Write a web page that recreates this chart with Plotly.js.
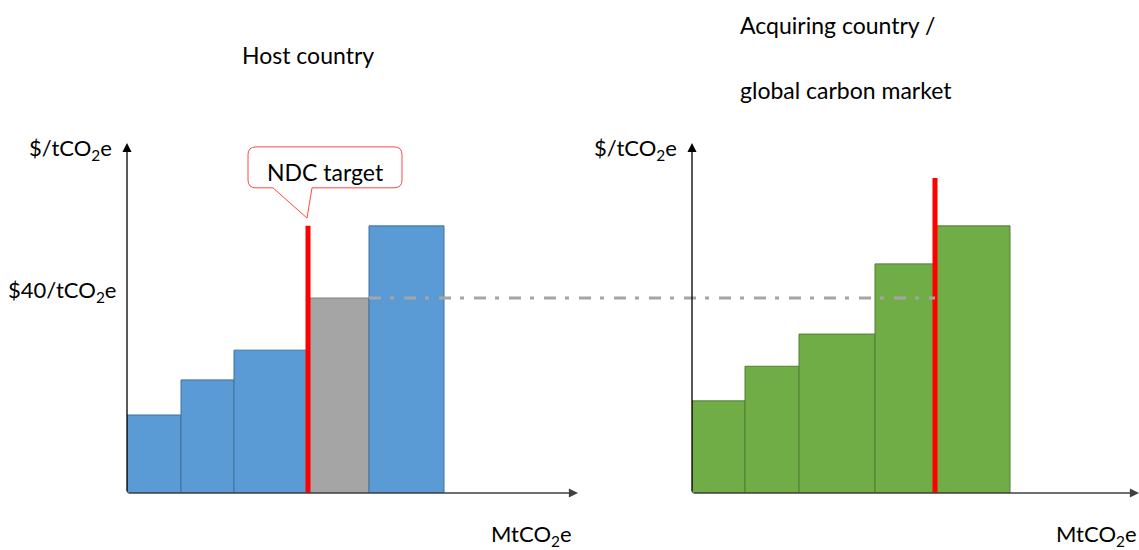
<!DOCTYPE html>
<html>
<head>
<meta charset="utf-8">
<script src="https://cdn.plot.ly/plotly-3.0.1.min.js"></script>
<style>html,body{margin:0;padding:0;background:#fff}#chart{width:1139px;height:550px}</style>
</head>
<body>
<div id="chart"></div>
<script>
// ---- data ----
const carbonPrice = 40;                       // $/tCO2e
const hostWidths  = [5.4, 5.3, 7.3, 6.2, 7.5]; // MtCO2e per abatement option
const hostCosts   = [16, 23.2, 29.3, 40, 54.8]; // $/tCO2e
const hostNdcX    = 18.1;                     // NDC target position
const hostNdcTop  = 54.8;
const buyerWidths = [5.3, 5.4, 7.6, 6.0, 7.5];
const buyerCosts  = [18.9, 26, 32.6, 47, 54.8];
const buyerNdcX   = 24.3;
const buyerNdcTop = 64.6;
const labels = {
  host: "Host country",
  buyer1: "Acquiring country /",
  buyer2: "global carbon market",
  yUnit: "$/tCO<sub>2</sub>e",
  price: "$40/tCO<sub>2</sub>e",
  xUnit: "MtCO<sub>2</sub>e",
  ndc: "NDC target"
};

// ---- layout geometry ----
const W = 1139, H = 550;
const px = x => x / W, py = y => 1 - y / H;
const xRangeL = [0, 45.1], xRangeR = [0, 44.7], yRange = [0, 71.8];
const xDomL = [127 / W, 578 / W], xDomR = [692 / W, 1];
const yDom = [57 / H, 407 / H];

function centers(widths) {
  let acc = 0; return widths.map(w => { const c = acc + w / 2; acc += w; return c; });
}
function cumEnd(widths, i) { return widths.slice(0, i + 1).reduce((a, b) => a + b, 0); }
function toPaperX(v, dom, rng) { return dom[0] + (v - rng[0]) / (rng[1] - rng[0]) * (dom[1] - dom[0]); }

const BLUE = '#5B9BD5', BLUE_L = '#41719C', GRAY = '#A5A5A5', GRAY_L = '#7F7F7F';
const GREEN = '#70AD47', GREEN_L = '#507E32';

const hostBars = {
  type: 'bar', x: centers(hostWidths), y: hostCosts, width: hostWidths,
  xaxis: 'x', yaxis: 'y', hoverinfo: 'skip',
  marker: {
    color: hostCosts.map(c => c === carbonPrice ? GRAY : BLUE),
    line: { color: hostCosts.map(c => c === carbonPrice ? GRAY_L : BLUE_L), width: 1 }
  }
};
const buyerBars = {
  type: 'bar', x: centers(buyerWidths), y: buyerCosts, width: buyerWidths,
  xaxis: 'x2', yaxis: 'y2', hoverinfo: 'skip',
  marker: { color: GREEN, line: { color: GREEN_L, width: 1 } }
};
const hostNdc = {
  type: 'scatter', mode: 'lines', x: [hostNdcX, hostNdcX], y: [0, hostNdcTop],
  xaxis: 'x', yaxis: 'y', line: { color: '#FF0000', width: 5 }, hoverinfo: 'skip'
};
const buyerNdc = {
  type: 'scatter', mode: 'lines', x: [buyerNdcX, buyerNdcX], y: [0, buyerNdcTop],
  xaxis: 'x2', yaxis: 'y2', line: { color: '#FF0000', width: 5 }, hoverinfo: 'skip'
};

// dash-dot price line from end of grey bar to buyer NDC line
const greyIdx = hostCosts.indexOf(carbonPrice);
const priceStart = toPaperX(cumEnd(hostWidths, greyIdx), xDomL, xRangeL);
const priceEnd = toPaperX(buyerNdcX, xDomR, xRangeR);
const yPricePaper = yDom[0] + carbonPrice / (yRange[1] - yRange[0]) * (yDom[1] - yDom[0]);

// callout (data coords of left subplot)
const cx0 = 12.1, cx1 = 27.5, cyT = 71.0, cyB = 62.6, rx = 0.8, ry = 1.6;
const calloutPath =
  `M ${cx0 + rx},${cyT} L ${cx1 - rx},${cyT} Q ${cx1},${cyT} ${cx1},${cyT - ry} ` +
  `L ${cx1},${cyB + ry} Q ${cx1},${cyB} ${cx1 - rx},${cyB} L 18.5,${cyB} L 18.0,56.4 L 14.6,${cyB} ` +
  `L ${cx0 + rx},${cyB} Q ${cx0},${cyB} ${cx0},${cyB + ry} L ${cx0},${cyT - ry} Q ${cx0},${cyT} ${cx0 + rx},${cyT} Z`;

const FAM = 'Lato, Carlito, "Open Sans", sans-serif';
function txt(text, x, y, xanchor, size) {
  return { text, x: px(x), y: py(y), xref: 'paper', yref: 'paper', xanchor, yanchor: 'middle', showarrow: false,
           font: { family: FAM, size: size || 23, color: '#000' } };
}
function axisArrow(xref, yref, x, y, color) {
  return { text: '', xref, yref, axref: xref, ayref: yref, x, y, ax: 0, ay: 0,
           showarrow: true, arrowhead: 2, arrowsize: 1.4, arrowwidth: 1.3, arrowcolor: color, standoff: 0 };
}

const layout = {
  width: W, height: H, margin: { l: 0, r: 0, t: 0, b: 0 },
  paper_bgcolor: '#fff', plot_bgcolor: 'rgba(0,0,0,0)', showlegend: false,
  xaxis: { domain: xDomL, range: xRangeL, visible: false, fixedrange: true },
  yaxis: { domain: yDom, range: yRange, visible: false, fixedrange: true },
  xaxis2: { domain: xDomR, range: xRangeR, visible: false, anchor: 'y2', fixedrange: true },
  yaxis2: { domain: yDom, range: yRange, visible: false, anchor: 'x2', fixedrange: true },
  shapes: [
    { type: 'line', xref: 'paper', yref: 'paper', x0: priceStart, x1: priceEnd, y0: yPricePaper, y1: yPricePaper,
      line: { color: '#A5A5A5', width: 3, dash: '12px,9px,4px,10px' }, layer: 'above' },
    { type: 'path', xref: 'x', yref: 'y', path: calloutPath, fillcolor: '#fff',
      line: { color: 'rgb(255,70,70)', width: 1 }, layer: 'above' }
  ],
  annotations: [
    axisArrow('x', 'y', 0, yRange[1], '#000'),
    axisArrow('x', 'y', xRangeL[1], 0, '#404040'),
    axisArrow('x2', 'y2', 0, yRange[1], '#000'),
    axisArrow('x2', 'y2', xRangeR[1], 0, '#404040'),
    txt(labels.host, 308, 55, 'center'),
    txt(labels.buyer1, 738, 25, 'left'),
    txt(labels.buyer2, 738, 90, 'left'),
    txt(labels.yUnit, 114, 149, 'right', 22),
    txt(labels.price, 118, 291, 'right', 22),
    txt(labels.yUnit, 679, 149, 'right', 22),
    txt(labels.xUnit, 574, 535, 'right', 22),
    txt(labels.xUnit, 1139, 535, 'right', 22),
    txt(labels.ndc, 325, 172, 'center')
  ]
};

Plotly.newPlot('chart', [hostBars, buyerBars, hostNdc, buyerNdc], layout, { staticPlot: true, displayModeBar: false });
</script>
</body>
</html>
